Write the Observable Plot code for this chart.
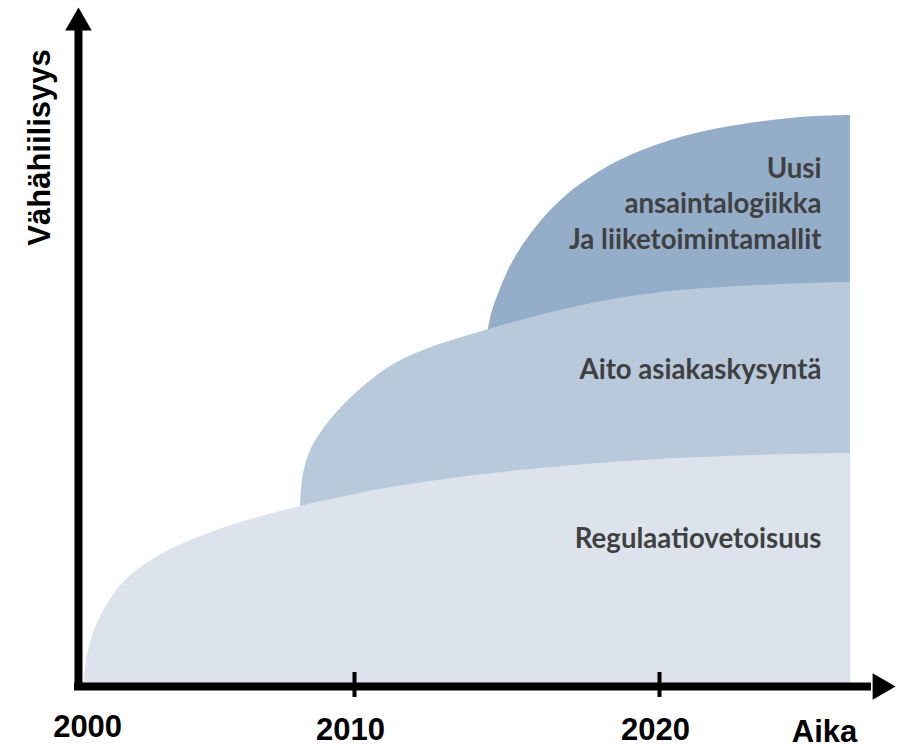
<!DOCTYPE html>
<html><head><meta charset="utf-8">
<script src="https://cdn.jsdelivr.net/npm/d3@7"></script>
<script src="https://cdn.jsdelivr.net/npm/@observablehq/plot@0.6"></script>
<style>html,body{margin:0;padding:0;background:#fff}#chart svg{display:block}</style>
</head><body><div id="chart"></div>
<script>
// Regulaatiovetoisuus (lightest layer)
const regYears  = [2001.115, 2001.18, 2001.28, 2001.51, 2001.84, 2002.26, 2002.82, 2003.67, 2004.79, 2005.87, 2006.85, 2008.23, 2009.54, 2011.02, 2012.49, 2013.97, 2015.77, 2017.41, 2019.38, 2021.34, 2023.64, 2026.26];
const regLevels = [0,        18,      36,      59,      79,      98,      115,     132,     148,     160,     169,     180,     189,     198,     205,     211,     217,     221.5,   226,     229,     231.5,   233];
// Aito asiakaskysyntä (middle layer)
const aitoYears  = [2008.23, 2008.26, 2008.33, 2008.56, 2008.95, 2009.48, 2010.26, 2011.34, 2012.43, 2013.97, 2016.33, 2018.49, 2020.69, 2023.97, 2026.26];
const aitoLevels = [180,     196,     213,     236,     256,     276,     299,     323,     338,     353,     373,     387,     396,     402,     404];
// Uusi ansaintalogiikka ja liiketoimintamallit (darkest layer)
const uusiYears  = [2014.39, 2014.49, 2014.69, 2015.11, 2015.77, 2016.66, 2017.74, 2019.05, 2020.69, 2022.33, 2023.97, 2025.11, 2026.26];
const uusiLevels = [357,     372,     390,     420,     452,     483,     509,     531,     549,     560,     567,     570,     571];

const layerNames  = ["Uusi\nansaintalogiikka\nJa liiketoimintamallit", "Aito asiakaskysyntä", "Regulaatiovetoisuus"];
const layerColors = ["#94adc9", "#b8c9dc", "#dce3ed"];
const labelYear   = [2025.31, 2025.31, 2025.31];
const labelLevel  = [438, 308, 139];

const tickYears  = [2010, 2020];
const tickLabels = ["2000", "2010", "2020", "Aika"];
const tickLabelYears  = [2001.25, 2009.87, 2019.87, 2025.41];
const tickLabelLevels = [-50, -53, -53, -55];
const yTitle = "Vähähiilisyys";

const toRows = (xs, ys) => xs.map((x, i) => ({year: x, h: ys[i]}));
const reg = toRows(regYears, regLevels);
const aito = toRows(aitoYears, aitoLevels);
const uusi = toRows(uusiYears, uusiLevels);

const originYear = 2000.95;
const xAxisStart = 2000.82, xAxisEnd = 2026.95, yAxisEnd = 656;

const chart = Plot.plot({
  width: 903, height: 747,
  marginTop: 0, marginBottom: 0, marginLeft: 0, marginRight: 0,
  x: {domain: [1998.3934, 2028.0], axis: null},
  y: {domain: [-61, 686], axis: null},
  style: {background: "#fff"},
  marks: [
    Plot.areaY(uusi, {x: "year", y: "h", fill: layerColors[0], curve: "catmull-rom"}),
    Plot.areaY(aito, {x: "year", y: "h", fill: layerColors[1], curve: "catmull-rom"}),
    Plot.areaY(reg,  {x: "year", y: "h", fill: layerColors[2], curve: "catmull-rom"}),
    Plot.text(layerNames, {
      x: (d, i) => labelYear[i], y: (d, i) => labelLevel[i], text: d => d,
      textAnchor: "end", lineAnchor: "bottom", lineHeight: 1.27,
      fontSize: 27.6, fontFamily: "Lato", fontWeight: "bold", fill: "#404040"
    }),
    // axes
    Plot.ruleX([originYear], {y1: -4, y2: yAxisEnd, stroke: "#000", strokeWidth: 8}),
    Plot.ruleY([0], {x1: xAxisStart, x2: xAxisEnd, stroke: "#000", strokeWidth: 8}),
    Plot.dot([{year: originYear, h: 663.7}], {x: "year", y: "h", symbol: "triangle", r: 9.86, fill: "#000", stroke: null, rotate: 0}),
    Plot.dot([{year: 2027.24, h: 0}], {x: "year", y: "h", symbol: "triangle", r: 9.86, fill: "#000", stroke: null, rotate: 90}),
    Plot.ruleX(tickYears, {y1: -11, y2: 14, stroke: "#000", strokeWidth: 4}),
    Plot.text(tickLabels, {
      x: (d, i) => tickLabelYears[i], y: (d, i) => tickLabelLevels[i], text: d => d,
      textAnchor: "middle", lineAnchor: "bottom",
      fontSize: 31, fontFamily: "Liberation Sans", fontWeight: "bold", fill: "#000"
    }),
    Plot.text([yTitle], {
      x: 2000.0, y: 539, text: d => d, rotate: -90,
      textAnchor: "middle", lineAnchor: "bottom",
      fontSize: 31, fontFamily: "Liberation Sans", fontWeight: "bold", fill: "#000"
    })
  ]
});
document.getElementById("chart").append(chart);
</script>
</body></html>
